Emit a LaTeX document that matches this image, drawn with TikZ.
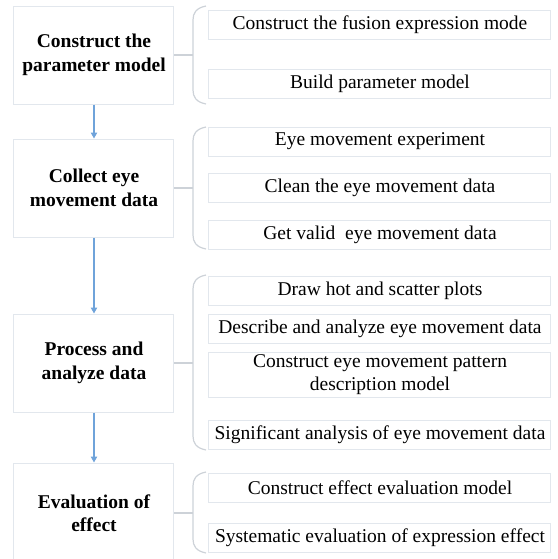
\documentclass[tikz,border=0pt]{standalone}
\usepackage{fontspec}
\setmainfont{Liberation Serif}
\usetikzlibrary{arrows.meta}

\definecolor{boxline}{HTML}{E2E7ED}
\definecolor{braceline}{HTML}{CDD2D8}
\definecolor{flowblue}{HTML}{6FA3DA}

\begin{document}
\begin{tikzpicture}[x=0.5pt, y=-0.5pt,
    every node/.style={font=\fontsize{9.75}{11.6}\selectfont, align=center, inner sep=1pt},
    stage/.style={draw=boxline, line width=0.5pt, minimum width=80pt, minimum height=49pt, font=\fontsize{9.75}{11.7}\selectfont\bfseries},
    task/.style={draw=boxline, line width=0.5pt, minimum width=171pt, minimum height=14.5pt},
    flow/.style={draw=flowblue, line width=0.6pt, -{Triangle[length=3pt, width=3.2pt]}},
    link/.style={draw=braceline, line width=0.6pt}]
        \useasboundingbox (0,0) rectangle (558,559);

        % stages on the left
        \node[stage] (s1) at (94,55) {Construct the\\parameter model};
        \node[stage] (s2) at (94,188) {Collect eye\\movement data};
        \node[stage] (s3) at (94,363) {Process and\\analyze data};
        \node[stage, minimum height=50pt] (s4) at (94,513) {Evaluation of\\effect};

        \draw[flow] (s1) -- (s2);
        \draw[flow] (s2) -- (s3);
        \draw[flow] (s3) -- (s4);

        % tasks on the right
        \node[task] (t11) at (380,24.5) {Construct the fusion expression mode};
        \node[task] (t12) at (380,83.5) {Build parameter model};

        \node[task] (t21) at (380,141.5) {Eye movement experiment};
        \node[task] (t22) at (380,188) {Clean the eye movement data};
        \node[task] (t23) at (380,234.5) {Get valid\ \ eye movement data};

        \node[task] (t31) at (380,291) {Draw hot and scatter plots};
        \node[task] (t32) at (380,329) {Describe and analyze eye movement data};
        \node[task, minimum height=22pt] (t33) at (380,375) {Construct eye movement pattern\\description model};
        \node[task] (t34) at (380,434.5) {Significant analysis of eye movement data};

        \node[task] (t41) at (380,487.5) {Construct effect evaluation model};
        \node[task] (t42) at (380,537.5) {Systematic evaluation of expression effect};

        % brackets
        \coordinate (b1) at (193,55);
        \coordinate (b2) at (193,188);
        \coordinate (b3) at (193,363);
        \coordinate (b4) at (193,513);

        \draw[link] (s1.east) -- (b1);
        \draw[link] (s2.east) -- (b2);
        \draw[link] (s3.east) -- (b3);
        \draw[link] (s4.east) -- (b4);

        \draw[link] (206,6) .. controls (196,8) and (193,13) .. (193,20) -- (193,90) .. controls (193,97) and (196,102) .. (206,104);
        \draw[link] (206,127) .. controls (196,129) and (193,134) .. (193,141) -- (193,235) .. controls (193,242) and (196,247) .. (206,249);
        \draw[link] (206,275) .. controls (196,277) and (193,282) .. (193,289) -- (193,436) .. controls (193,443) and (196,448) .. (206,450);
        \draw[link] (206,472) .. controls (196,474) and (193,479) .. (193,486) -- (193,539) .. controls (193,546) and (196,551) .. (206,553);
\end{tikzpicture}
\end{document}
